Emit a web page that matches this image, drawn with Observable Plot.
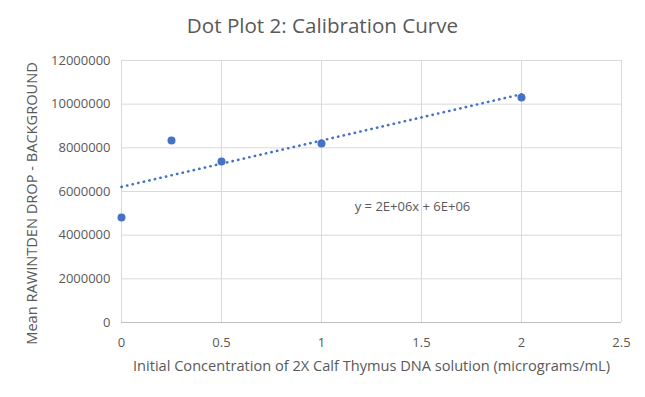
<!DOCTYPE html>
<html>
<head>
<meta charset="utf-8">
<script src="https://cdn.jsdelivr.net/npm/d3@7"></script>
<script src="https://cdn.jsdelivr.net/npm/@observablehq/plot@0.6"></script>
<style>
  body { margin: 0; background: #fff; font-family: "Open Sans", Lato, sans-serif; }
  #wrap { width: 645px; height: 397px; position: relative; overflow: hidden; }
  #title { height: 44px; line-height: 50px; text-align: center; font-size: 20.6px; color: #595959; }
</style>
</head>
<body>
<div id="wrap">
  <div id="title">Dot Plot 2: Calibration Curve</div>
  <div id="chart"></div>
</div>
<script>
const concentration = [0, 0.25, 0.5, 1, 2];
const meanRawIntDen = [4810000, 8340000, 7370000, 8200000, 10300000];
const xTicks = [0, 0.5, 1, 1.5, 2, 2.5];
const yTicks = [0, 2000000, 4000000, 6000000, 8000000, 10000000, 12000000];
const equationLabel = "y = 2E+06x + 6E+06";
const xTitle = "Initial Concentration of 2X Calf Thymus DNA solution (micrograms/mL)";
const yTitle = "Mean RAWINTDEN DROP - BACKGROUND";

const data = concentration.map((x, i) => ({x, y: meanRawIntDen[i]}));
const blue = "#4472C4";
const textColor = "#595959";

const plot = Plot.plot({
  width: 645,
  height: 353,
  marginTop: 16,
  marginBottom: 75,
  marginLeft: 121,
  marginRight: 24,
  style: {fontFamily: "'Open Sans', Lato, sans-serif", fontSize: "13px", color: textColor, background: "#fff"},
  x: {domain: [0, 2.5]},
  y: {domain: [0, 12000000]},
  marks: [
    Plot.gridY(yTicks, {stroke: "#d9d9d9", strokeOpacity: 1}),
    Plot.gridX(xTicks, {stroke: "#d9d9d9", strokeOpacity: 1}),
    Plot.ruleY([0], {stroke: "#bfbfbf"}),
    Plot.axisX(xTicks, {tickSize: 0, tickPadding: 15, tickFormat: d => String(d), fill: textColor, fontSize: "13px", label: xTitle, labelAnchor: "center", labelArrow: "none", labelOffset: 48}),
    Plot.axisY(yTicks, {tickSize: 0, tickPadding: 11, tickFormat: d => String(d), fill: textColor, fontSize: "13px", label: yTitle, labelAnchor: "center", labelArrow: "none", labelOffset: 95}),
    Plot.linearRegressionY(data, {x: "x", y: "y", ci: 0, stroke: blue, strokeWidth: 2.6, strokeDasharray: "0.3,5.4", strokeLinecap: "round"}),
    Plot.dot(data, {x: "x", y: "y", r: 4, fill: blue, stroke: "none"}),
    Plot.text([equationLabel], {x: 1.455, y: 5300000, text: d => d, fill: textColor, fontSize: "13px"})
  ]
});
document.getElementById("chart").appendChild(plot);
plot.querySelectorAll("g[aria-label='x-axis label'] text").forEach(t => {
  t.style.fontSize = "14.6px";
  t.setAttribute("fill", textColor);
});
plot.querySelectorAll("g[aria-label='y-axis label']").forEach(g => {
  g.setAttribute("transform", ((g.getAttribute("transform") || "") + " translate(0,12)").trim());
  g.querySelectorAll("text").forEach(t => {
    t.style.fontSize = "14.6px";
    t.setAttribute("fill", textColor);
  });
});
</script>
</body>
</html>
